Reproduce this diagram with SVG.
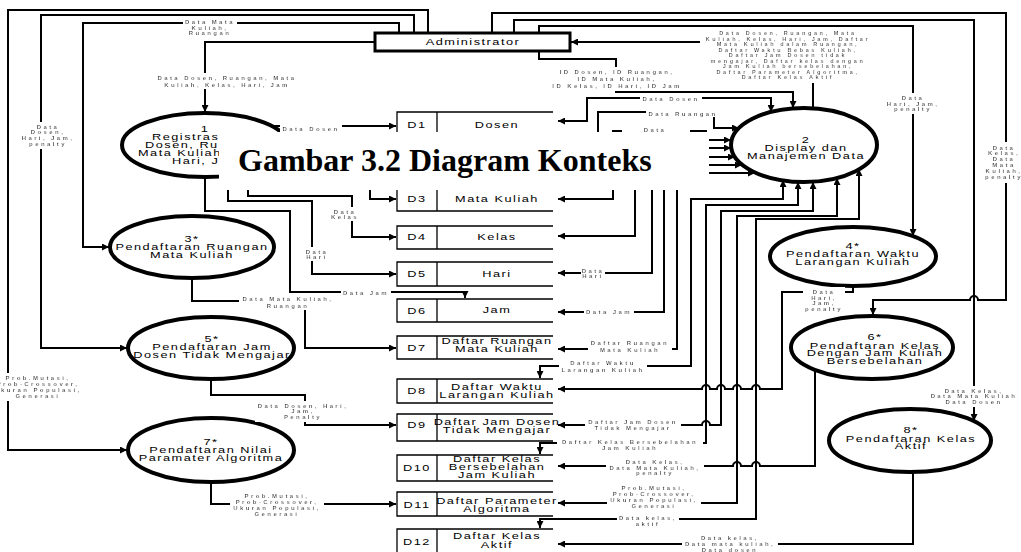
<svg xmlns="http://www.w3.org/2000/svg" width="1021" height="552" viewBox="0 0 1021 552">
<defs>
<marker id="a" viewBox="0 0 10 10" refX="10" refY="5" markerWidth="9" markerHeight="7" markerUnits="userSpaceOnUse" orient="auto-start-reverse"><path d="M0,0 L10,5 L0,10 z" fill="#000"/></marker>
<filter id="bg" x="-0.03" y="-0.06" width="1.06" height="1.12"><feFlood flood-color="#fff"/><feComposite in="SourceGraphic"/></filter>
</defs>
<style>
.c{fill:none;stroke:#000;stroke-width:2}
.ar{marker-end:url(#a)}
.ab{marker-start:url(#a);marker-end:url(#a)}
.e{fill:#fff;stroke:#000;stroke-width:4}
.st{fill:none;stroke:#000;stroke-width:1.3}
.p{font-family:"Liberation Sans",Arial,sans-serif;font-size:8.5px;letter-spacing:1px;text-anchor:middle;fill:#000}
.ps{text-anchor:start}
.f{font-family:"Liberation Sans",Arial,sans-serif;font-size:6px;font-weight:bold;letter-spacing:2.4px;text-anchor:middle;fill:#000;filter:url(#bg)}
.sm{font-size:5.5px;letter-spacing:2.6px}
.title{font-family:"Liberation Serif","Times New Roman",serif;font-size:32px;font-weight:bold;fill:#000}
</style>
<rect width="1021" height="552" fill="#fff"/>
<g id="connectors">
<path class="c ar" d="M428,33 V10 H8 V450 H127"/>
<path class="c ar" d="M414,33 V15 H41 V348 H127"/>
<path class="c ar" d="M399,33 V23 H83 V247 H109"/>
<path class="c ar" d="M375,42 H205 V112"/>
<path class="c ar" d="M492,33 V13 H1006 V300 H978 A4,4 0 0 0 970,300 H873 V315"/>
<path class="c ar" d="M514,33 V20 H974 V421"/>
<path class="c ar" d="M539,33 V26 H913 V236"/>
<path class="c ar" d="M813,108 V42 H571"/>
<path class="c ar" d="M539,51 V59 H616 V92 H793 V108"/>
<path class="c ab" d="M558,121 H587 V98 H771 V112"/>
<path class="c ar" d="M598,150 V112 H714 V128 H739"/>
<path class="c" d="M612,131 H622 M690,131 H707"/>
<path class="c ab" d="M558,199 H613 V140 H731"/>
<path class="c ab" d="M558,236 H635 V148 H731"/>
<path class="c ab" d="M558,273 H652 V157 H735"/>
<path class="c ab" d="M558,312 H664 V165 H742"/>
<path class="c ab" d="M558,349 H677 V173 H755"/>
<path class="c ab" d="M783,180 V199 H691 V366 H540 V378"/>
<path class="c ab" d="M798,182 V205 H706 V443 H540 V454"/>
<path class="c ab" d="M813,182 V211 H721 V425 H710 A4,4 0 0 0 702,425 H558"/>
<path class="c ab" d="M837,178 V216 H737 V503 H558"/>
<path class="c ab" d="M859,169 V219 H756 V519 H540 V528"/>
<path class="c ar" d="M853,286 V292 H782 V389 H760 A4,4 0 0 0 752,389 H741 A4,4 0 0 0 733,389 H725 A4,4 0 0 0 717,389 H710 A4,4 0 0 0 702,389 H558"/>
<path class="c ar" d="M815,370 V466 H760 A4,4 0 0 0 752,466 H741 A4,4 0 0 0 733,466 H558"/>
<path class="c ar" d="M913,472 V544 H558"/>
<path class="c ar" d="M270,126 H396"/>
<path class="c ar" d="M287,150 H370 V199 H396"/>
<path class="c ar" d="M248,172 V196 H352 V237 H396"/>
<path class="c ar" d="M228,176 V201 H312 V274 H396"/>
<path class="c ar" d="M205,177 V211 H290 V292 H465 V298"/>
<path class="c ar" d="M192,278 V301 H305 V348 H396"/>
<path class="c ar" d="M211,379 V395 H305 V425 H396"/>
<path class="c ar" d="M211,482 V504 H396"/>
</g>
<g id="admin">
<rect x="375" y="33" width="195" height="18" fill="#fff" stroke="#000" stroke-width="3"/>
<text class="p" transform="translate(473 0) scale(1.5 1)"><tspan x="0" y="45.5">Administrator</tspan></text>
</g>
<g id="p1"><ellipse class="e" cx="205" cy="145" rx="83" ry="32"/>
<text class="p" transform="translate(205 0) scale(1.5 1)"><tspan x="0" y="132">1</tspan></text>
<text class="p ps" transform="translate(152 0) scale(1.5 1)"><tspan x="0" y="140">Registrasi</tspan></text>
<text class="p ps" transform="translate(145 0) scale(1.5 1)"><tspan x="0" y="148">Dosen, Ru</tspan></text>
<text class="p ps" transform="translate(138 0) scale(1.5 1)"><tspan x="0" y="156">Mata Kuliah</tspan></text>
<text class="p ps" transform="translate(172 0) scale(1.5 1)"><tspan x="0" y="164">Hari, Ja</tspan></text></g>
<g id="p2"><ellipse class="e" cx="804" cy="145" rx="73" ry="37"/>
<text class="p" transform="translate(806 0) scale(1.5 1)"><tspan x="0" y="143.5">2</tspan><tspan x="0" y="151.5">Display dan</tspan><tspan x="0" y="159.5">Manajemen Data</tspan></text></g>
<g id="p3"><ellipse class="e" cx="192" cy="247" rx="82" ry="31"/>
<text class="p" transform="translate(192 0) scale(1.5 1)"><tspan x="0" y="242.5">3*</tspan><tspan x="0" y="250.5">Pendaftaran Ruangan</tspan><tspan x="0" y="258.5">Mata Kuliah</tspan></text></g>
<g id="p4"><ellipse class="e" cx="853" cy="256.5" rx="83" ry="29.5"/>
<text class="p" transform="translate(853 0) scale(1.5 1)"><tspan x="0" y="249.5">4*</tspan><tspan x="0" y="257.5">Pendaftaran Waktu</tspan><tspan x="0" y="265">Larangan Kuliah</tspan></text></g>
<g id="p5"><ellipse class="e" cx="211" cy="348" rx="83" ry="31"/>
<text class="p" transform="translate(212 0) scale(1.5 1)"><tspan x="0" y="342.5">5*</tspan><tspan x="0" y="350.5">Pendaftaran Jam</tspan><tspan x="0" y="358.5">Dosen Tidak Mengajar</tspan></text></g>
<g id="p6"><ellipse class="e" cx="872" cy="347.5" rx="81" ry="31.5"/>
<text class="p" transform="translate(875 0) scale(1.5 1)"><tspan x="0" y="340.5">6*</tspan><tspan x="0" y="349">Pendaftaran Kelas</tspan><tspan x="0" y="356.5">Dengan Jam Kuliah</tspan><tspan x="0" y="364">Bersebelahan</tspan></text></g>
<g id="p7"><ellipse class="e" cx="211" cy="450" rx="83" ry="32"/>
<text class="p" transform="translate(211 0) scale(1.5 1)"><tspan x="0" y="445.5">7*</tspan><tspan x="0" y="453.5">Pendaftaran Nilai</tspan><tspan x="0" y="461">Paramater Algoritma</tspan></text></g>
<g id="p8"><ellipse class="e" cx="910" cy="440.5" rx="81" ry="31.5"/>
<text class="p" transform="translate(911 0) scale(1.5 1)"><tspan x="0" y="433.5">8*</tspan><tspan x="0" y="442">Pendaftaran Kelas</tspan><tspan x="0" y="449.5">Aktif</tspan></text></g>
<g id="d1"><path class="st" d="M553,112 H397 V135 H553 M437,112 V135"/><text class="p" transform="translate(417 0) scale(1.5 1)"><tspan x="0" y="128">D1</tspan></text><text class="p" transform="translate(497 0) scale(1.5 1)"><tspan x="0" y="128">Dosen</tspan></text></g>
<g id="d3"><path class="st" d="M553,188 H397 V211 H553 M437,188 V211"/><text class="p" transform="translate(417 0) scale(1.5 1)"><tspan x="0" y="202.5">D3</tspan></text><text class="p" transform="translate(497 0) scale(1.5 1)"><tspan x="0" y="202.5">Mata Kuliah</tspan></text></g>
<g id="d4"><path class="st" d="M553,226 H397 V249 H553 M437,226 V249"/><text class="p" transform="translate(417 0) scale(1.5 1)"><tspan x="0" y="240">D4</tspan></text><text class="p" transform="translate(497 0) scale(1.5 1)"><tspan x="0" y="240">Kelas</tspan></text></g>
<g id="d5"><path class="st" d="M553,262 H397 V286 H553 M437,262 V286"/><text class="p" transform="translate(417 0) scale(1.5 1)"><tspan x="0" y="277.5">D5</tspan></text><text class="p" transform="translate(497 0) scale(1.5 1)"><tspan x="0" y="277.5">Hari</tspan></text></g>
<g id="d6"><path class="st" d="M553,299 H397 V322 H553 M437,299 V322"/><text class="p" transform="translate(417 0) scale(1.5 1)"><tspan x="0" y="314">D6</tspan></text><text class="p" transform="translate(497 0) scale(1.5 1)"><tspan x="0" y="313.5">Jam</tspan></text></g>
<g id="d7"><path class="st" d="M553,336 H397 V359 H553 M437,336 V359"/><text class="p" transform="translate(417 0) scale(1.5 1)"><tspan x="0" y="351">D7</tspan></text><text class="p" transform="translate(497 0) scale(1.5 1)"><tspan x="0" y="344.5">Daftar Ruangan</tspan><tspan x="0" y="352.5">Mata Kuliah</tspan></text></g>
<g id="d8"><path class="st" d="M553,379 H397 V403 H553 M437,379 V403"/><text class="p" transform="translate(417 0) scale(1.5 1)"><tspan x="0" y="394">D8</tspan></text><text class="p" transform="translate(497 0) scale(1.5 1)"><tspan x="0" y="390.5">Daftar Waktu</tspan><tspan x="0" y="398.5">Larangan Kuliah</tspan></text></g>
<g id="d9"><path class="st" d="M553,414 H397 V441 H553 M437,414 V441"/><text class="p" transform="translate(417 0) scale(1.5 1)"><tspan x="0" y="428.5">D9</tspan></text><text class="p" transform="translate(497 0) scale(1.5 1)"><tspan x="0" y="425.5">Daftar Jam Dosen</tspan><tspan x="0" y="433.5">Tidak Mengajar</tspan></text></g>
<g id="d10"><path class="st" d="M553,455 H397 V481 H553 M437,455 V481"/><text class="p" transform="translate(417 0) scale(1.5 1)"><tspan x="0" y="471.5">D10</tspan></text><text class="p" transform="translate(497 0) scale(1.5 1)"><tspan x="0" y="462.5">Daftar Kelas</tspan><tspan x="0" y="470.5">Bersebelahan</tspan><tspan x="0" y="478.5">Jam Kuliah</tspan></text></g>
<g id="d11"><path class="st" d="M553,492 H397 V516 H553 M437,492 V516"/><text class="p" transform="translate(417 0) scale(1.5 1)"><tspan x="0" y="508">D11</tspan></text><text class="p" transform="translate(497 0) scale(1.5 1)"><tspan x="0" y="504.5">Daftar Parameter</tspan><tspan x="0" y="512.5">Algoritma</tspan></text></g>
<g id="d12"><path class="st" d="M553,529 H397 V553 H553 M437,529 V553"/><text class="p" transform="translate(417 0) scale(1.5 1)"><tspan x="0" y="545">D12</tspan></text><text class="p" transform="translate(497 0) scale(1.5 1)"><tspan x="0" y="539.5">Daftar Kelas</tspan><tspan x="0" y="548">Aktif</tspan></text></g>
<g id="labels">
<text class="f"><tspan x="38" y="380">Prob.Mutasi,</tspan><tspan x="38" y="386">Prob-Crossover,</tspan><tspan x="38" y="392">Ukuran Populasi,</tspan><tspan x="38" y="398">Generasi</tspan></text>
<text class="f"><tspan x="48" y="128.5">Data</tspan><tspan x="48" y="134">Dosen,</tspan><tspan x="48" y="140">Hari, Jam,</tspan><tspan x="48" y="146">penalty</tspan></text>
<text class="f"><tspan x="210" y="23.5">Data Mata</tspan><tspan x="210" y="29.5">Kuliah,</tspan><tspan x="210" y="35">Ruangan</tspan></text>
<text class="f"><tspan x="227" y="79.5">Data Dosen, Ruangan, Mata</tspan><tspan x="227" y="86.5">Kuliah, Kelas, Hari, Jam</tspan></text>
<text class="f"><tspan x="1004" y="149.5">Data</tspan><tspan x="1004" y="155">Kelas,</tspan><tspan x="1004" y="161">Data</tspan><tspan x="1004" y="167">Mata</tspan><tspan x="1004" y="173">Kuliah,</tspan><tspan x="1004" y="179">penalty</tspan></text>
<text class="f"><tspan x="974" y="392.5">Data Kelas,</tspan><tspan x="974" y="398">Data Mata Kuliah</tspan><tspan x="974" y="404">Data Dosen</tspan></text>
<text class="f"><tspan x="913" y="99.5">Data</tspan><tspan x="913" y="105.5">Hari, Jam,</tspan><tspan x="913" y="111">penalty</tspan></text>
<text class="f sm"><tspan x="788" y="35">Data Dosen, Ruangan, Mata</tspan><tspan x="788" y="40.5">Kuliah, Kelas, Hari, Jam, Daftar</tspan><tspan x="788" y="46">Mata Kuliah dalam Ruangan,</tspan><tspan x="788" y="51.5">Daftar Waktu Bebas Kuliah,</tspan><tspan x="788" y="57">Daftar Jam Dosen tidak</tspan><tspan x="788" y="62.5">mengajar, Daftar kelas dengan</tspan><tspan x="788" y="68">Jam Kuliah bersebelahan,</tspan><tspan x="788" y="73.5">Daftar Parameter Algoritma,</tspan><tspan x="788" y="79">Daftar Kelas Aktif</tspan></text>
<text class="f"><tspan x="617" y="74">ID Dosen, ID Ruangan,</tspan><tspan x="617" y="81">ID Mata Kuliah,</tspan><tspan x="617" y="88">ID Kelas, ID Hari, ID Jam</tspan></text>
<text class="f"><tspan x="671" y="100.5">Data Dosen</tspan></text>
<text class="f"><tspan x="683" y="115.5">Data Ruangan</tspan></text>
<text class="f"><tspan x="655" y="132">Data</tspan></text>
<text class="f"><tspan x="311" y="130.5">Data Dosen</tspan></text>
<text class="f"><tspan x="345" y="213.5">Data</tspan><tspan x="345" y="218.5">Kelas</tspan></text>
<text class="f"><tspan x="317" y="253.5">Data</tspan><tspan x="317" y="258.5">Hari</tspan></text>
<text class="f"><tspan x="366" y="294.5">Data Jam</tspan></text>
<text class="f"><tspan x="288" y="300.5">Data Mata Kuliah,</tspan><tspan x="288" y="307.5">Ruangan</tspan></text>
<text class="f"><tspan x="303" y="407.5">Data Dosen, Hari,</tspan><tspan x="303" y="413">Jam,</tspan><tspan x="303" y="419">Penalty</tspan></text>
<text class="f"><tspan x="277" y="497.5">Prob.Mutasi,</tspan><tspan x="277" y="503.5">Prob-Crossover,</tspan><tspan x="277" y="509.5">Ukuran Populasi,</tspan><tspan x="277" y="515.5">Generasi</tspan></text>
<text class="f"><tspan x="593" y="272.5">Data</tspan><tspan x="593" y="278">Hari</tspan></text>
<text class="f"><tspan x="609" y="314">Data Jam</tspan></text>
<text class="f"><tspan x="630" y="345">Daftar Ruangan</tspan><tspan x="630" y="352">Mata Kuliah</tspan></text>
<text class="f"><tspan x="603" y="365">Daftar Waktu</tspan><tspan x="603" y="371.5">Larangan Kuliah</tspan></text>
<text class="f"><tspan x="633" y="423.5">Daftar Jam Dosen</tspan><tspan x="633" y="429.5">Tidak Mengajar</tspan></text>
<text class="f"><tspan x="630" y="443.5">Daftar Kelas Bersebelahan</tspan><tspan x="630" y="449.5">Jam Kuliah</tspan></text>
<text class="f"><tspan x="655" y="464">Data Kelas,</tspan><tspan x="655" y="469.5">Data Mata Kuliah,</tspan><tspan x="655" y="475">penalty</tspan></text>
<text class="f"><tspan x="654" y="489.5">Prob.Mutasi,</tspan><tspan x="654" y="495.5">Prob-Crossover,</tspan><tspan x="654" y="501.5">Ukuran Populasi,</tspan><tspan x="654" y="507.5">Generasi</tspan></text>
<text class="f"><tspan x="648" y="520">Data kelas,</tspan><tspan x="648" y="526">aktif</tspan></text>
<text class="f"><tspan x="730" y="539.5">Data kelas,</tspan><tspan x="730" y="545.5">Data mata kuliah,</tspan><tspan x="730" y="551.5">Data dosen</tspan></text>
<text class="f"><tspan x="824" y="293.5">Data</tspan><tspan x="824" y="299.5">Hari,</tspan><tspan x="824" y="305">Jam,</tspan><tspan x="824" y="310.5">penalty</tspan></text>
</g>
<g id="title">
<rect x="219" y="132" width="490" height="58" fill="#fff"/>
<text class="title" x="238" y="171">Gambar 3.2 Diagram Konteks</text>
</g>
</svg>
